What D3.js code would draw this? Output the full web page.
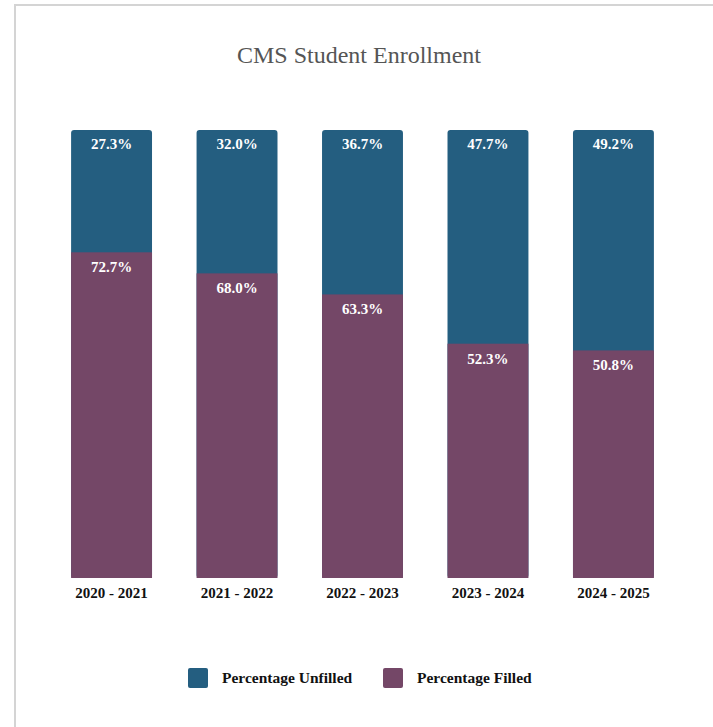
<!DOCTYPE html>
<html>
<head>
    <meta charset="utf-8">
    <style>
        body{
            margin: 0;
            background: #fff;
        }
        svg text{
            font-family: "Liberation Serif", "DejaVu Serif", serif;
        }
    </style>
</head>
<body>
    <svg width="713" height="727"></svg>
</body>

<script src="https://d3js.org/d3.v7.min.js"></script>

<script>
    // school years
    let years = ["2020 - 2021", "2021 - 2022", "2022 - 2023", "2023 - 2024", "2024 - 2025"]
    // percent of seats filled / unfilled
    let filled = [72.7, 68.0, 63.3, 52.3, 50.8]
    let unfilled = [27.3, 32.0, 36.7, 47.7, 49.2]
    let seriesNames = ["Percentage Unfilled", "Percentage Filled"]
    let colors = ["#245e80", "#744767"]

    let width = 713
    let height = 727

    let svg = d3.select("svg")

    // frame of the card
    svg.append("path")
        .attr("d", "M15," + height + "V5H" + width)
        .style("fill", "none")
        .style("stroke", "#d4d4d4")
        .style("stroke-width", 2)

    svg.append("text")
        .attr("x", 359)
        .attr("y", 63)
        .attr("text-anchor", "middle")
        .style("font-size", "24px")
        .style("fill", "#555")
        .text("CMS Student Enrollment")

    let x = d3.scaleBand()
        .domain(years)
        .range([46, 679])
        .paddingInner(0.355)
        .paddingOuter(0.2)

    let y = d3.scaleLinear()
        .domain([0, 100])
        .range([578, 130])

    let rows = years.map((yr, i) => ({year: yr, filled: filled[i], unfilled: unfilled[i]}))

    let bars = svg.append("g")

    // unfilled on top, drawn full height so only its top corners show round
    bars.selectAll(".unfilled")
        .data(rows)
        .join("rect")
        .attr("x", d => x(d.year))
        .attr("y", y(100))
        .attr("width", x.bandwidth())
        .attr("height", y(0) - y(100))
        .attr("rx", 3)
        .style("fill", colors[0])

    bars.selectAll(".filled")
        .data(rows)
        .join("rect")
        .attr("x", d => x(d.year))
        .attr("y", d => y(d.filled))
        .attr("width", x.bandwidth())
        .attr("height", d => y(0) - y(d.filled))
        .style("fill", colors[1])

    // value labels
    bars.selectAll(".lab-un")
        .data(rows)
        .join("text")
        .attr("x", d => x(d.year) + x.bandwidth() / 2)
        .attr("y", y(100) + 19)
        .attr("text-anchor", "middle")
        .style("font-size", "15px")
        .style("font-weight", "bold")
        .style("fill", "#fff")
        .text(d => d.unfilled.toFixed(1) + "%")

    bars.selectAll(".lab-fi")
        .data(rows)
        .join("text")
        .attr("x", d => x(d.year) + x.bandwidth() / 2)
        .attr("y", d => y(d.filled) + 20)
        .attr("text-anchor", "middle")
        .style("font-size", "15px")
        .style("font-weight", "bold")
        .style("fill", "#fff")
        .text(d => d.filled.toFixed(1) + "%")

    let xAxis = svg.append("g")
        .attr("transform", "translate(0," + y(0) + ")")
        .call(d3.axisBottom(x).tickSize(0).tickPadding(9))

    xAxis.select(".domain").remove()
    xAxis.selectAll("text")
        .style("font-family", "'Liberation Serif', serif")
        .style("font-size", "15px")
        .style("font-weight", "bold")
        .style("fill", "#111")

    // legend
    let legendX = [188, 383]
    let legend = svg.append("g")
        .selectAll("g")
        .data(seriesNames)
        .join("g")
        .attr("transform", (d, i) => "translate(" + legendX[i] + ",668)")

    legend.append("rect")
        .attr("width", 20)
        .attr("height", 20)
        .attr("rx", 2)
        .style("fill", (d, i) => colors[i])

    legend.append("text")
        .attr("x", 34)
        .attr("y", 15)
        .style("font-size", "15.5px")
        .style("font-weight", "bold")
        .style("fill", "#111")
        .text(d => d)
</script>
</html>
